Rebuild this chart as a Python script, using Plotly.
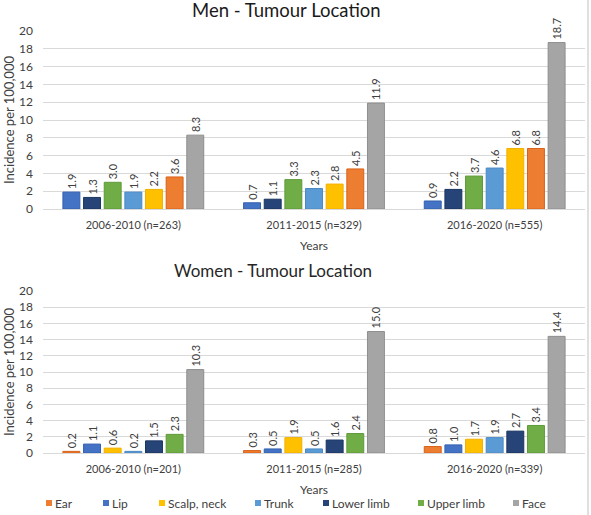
import plotly.graph_objects as go
from plotly.subplots import make_subplots

periods_men = ["2006-2010 (n=263)", "2011-2015 (n=329)", "2016-2020 (n=555)"]
periods_women = ["2006-2010 (n=201)", "2011-2015 (n=285)", "2016-2020 (n=339)"]

# Men (bar order in chart: Lip, Lower limb, Upper limb, Trunk, Scalp, Ear, Face)
men_order = ["Lip", "Lower limb", "Upper limb", "Trunk", "Scalp, neck", "Ear", "Face"]
men = {
    "Lip": [1.9, 0.7, 0.9],
    "Lower limb": [1.3, 1.1, 2.2],
    "Upper limb": [3.0, 3.3, 3.7],
    "Trunk": [1.9, 2.3, 4.6],
    "Scalp, neck": [2.2, 2.8, 6.8],
    "Ear": [3.6, 4.5, 6.8],
    "Face": [8.3, 11.9, 18.7],
}

# Women (bar order: Ear, Lip, Scalp, Trunk, Lower limb, Upper limb, Face)
women_order = ["Ear", "Lip", "Scalp, neck", "Trunk", "Lower limb", "Upper limb", "Face"]
women = {
    "Ear": [0.2, 0.3, 0.8],
    "Lip": [1.1, 0.5, 1.0],
    "Scalp, neck": [0.6, 1.9, 1.7],
    "Trunk": [0.2, 0.5, 1.9],
    "Lower limb": [1.5, 1.6, 2.7],
    "Upper limb": [2.3, 2.4, 3.4],
    "Face": [10.3, 15.0, 14.4],
}

legend_order = ["Ear", "Lip", "Scalp, neck", "Trunk", "Lower limb", "Upper limb", "Face"]

colors = {
    "Ear": "#ED7D31",
    "Lip": "#4472C4",
    "Scalp, neck": "#FFC000",
    "Trunk": "#5B9BD5",
    "Lower limb": "#264478",
    "Upper limb": "#70AD47",
    "Face": "#A5A5A5",
}
edge = {
    "Ear": "#D8621A",
    "Lip": "#3360B0",
    "Scalp, neck": "#F0B000",
    "Trunk": "#4A88C4",
    "Lower limb": "#1A3560",
    "Upper limb": "#5E9A38",
    "Face": "#8E8E8E",
}

FONT = "Lato"
TXT = "#404040"
W, H = 591.0, 515.0
L, R = 43, 6
PW = W - L - R


def px_x(x):
    return (x - L) / PW


def px_y(y):
    return 1 - y / H


fig = make_subplots(rows=2, cols=1)

for name in men_order:
    fig.add_trace(go.Bar(
        x=periods_men, y=men[name], name=name, legendgroup=name, showlegend=False,
        marker=dict(color=colors[name], line=dict(color=edge[name], width=1)),
        texttemplate="%{y:.1f}", textposition="outside", textangle=-90,
        textfont=dict(size=11, color=TXT, family=FONT), cliponaxis=False,
        constraintext="none",
    ), row=1, col=1)

for name in women_order:
    fig.add_trace(go.Bar(
        x=periods_women, y=women[name], name=name, legendgroup=name, showlegend=False,
        marker=dict(color=colors[name], line=dict(color=edge[name], width=1)),
        texttemplate="%{y:.1f}", textposition="outside", textangle=-90,
        textfont=dict(size=11, color=TXT, family=FONT), cliponaxis=False,
        constraintext="none",
    ), row=2, col=1)

yaxis_common = dict(
    range=[0, 20], dtick=2, showgrid=True, gridcolor="#D9D9D9", gridwidth=1,
    zeroline=False, showline=False, ticks="", ticklabelstandoff=9,
    tickfont=dict(size=12, color=TXT, family=FONT),
    title=dict(text="Incidence per 100,000", font=dict(size=13, color=TXT, family=FONT), standoff=1),
)
xaxis_common = dict(
    domain=[0, 1], showline=True, linecolor="#D9D9D9", ticks="", ticklabelstandoff=6,
    tickfont=dict(size=11, color=TXT, family=FONT),
    title=dict(text="Years", font=dict(size=12, color=TXT, family=FONT), standoff=11),
)

# manual legend (Excel-style small squares)
legend_left_px = [46, 103, 159, 255, 323, 418, 513]
shapes = []
annotations = []
for name, lx in zip(legend_order, legend_left_px):
    shapes.append(dict(type="rect", xref="paper", yref="paper",
                       x0=px_x(lx), x1=px_x(lx + 6), y0=px_y(506), y1=px_y(500),
                       fillcolor=colors[name], line=dict(width=0)))
    annotations.append(dict(text=name, x=px_x(lx + 7), y=px_y(503), xref="paper", yref="paper",
                            showarrow=False, xanchor="left", yanchor="middle",
                            font=dict(size=12, color=TXT, family=FONT)))

annotations += [
    dict(text="Men - Tumour Location", x=px_x(286), y=px_y(10), xref="paper", yref="paper",
         showarrow=False, font=dict(size=18.5, color="#1A1A1A", family=FONT),
         xanchor="center", yanchor="middle"),
    dict(text="Women - Tumour Location", x=px_x(273), y=px_y(270), xref="paper", yref="paper",
         showarrow=False, font=dict(size=17, color="#262626", family=FONT),
         xanchor="center", yanchor="middle"),
]
shapes.append(dict(type="line", xref="paper", yref="paper", x0=px_x(588), x1=px_x(588),
                   y0=-0.01, y1=1.02, line=dict(color="#BFBFBF", width=1)))

fig.update_layout(
    width=591, height=515,
    margin=dict(l=L, r=R, t=0, b=0, autoexpand=False),
    paper_bgcolor="white", plot_bgcolor="white",
    barmode="group", bargap=0.2, bargroupgap=0.18,
    font=dict(family=FONT, color=TXT),
    showlegend=False,
    xaxis=dict(anchor="y", **xaxis_common),
    yaxis=dict(domain=[px_y(209), px_y(31)], anchor="x", **yaxis_common),
    xaxis2=dict(anchor="y2", **xaxis_common),
    yaxis2=dict(domain=[px_y(453), px_y(291)], anchor="x2", **yaxis_common),
    annotations=annotations,
    shapes=shapes,
)

fig.write_html("out.html", config={"displayModeBar": False},
               post_script="document.body.style.margin='0px';")
